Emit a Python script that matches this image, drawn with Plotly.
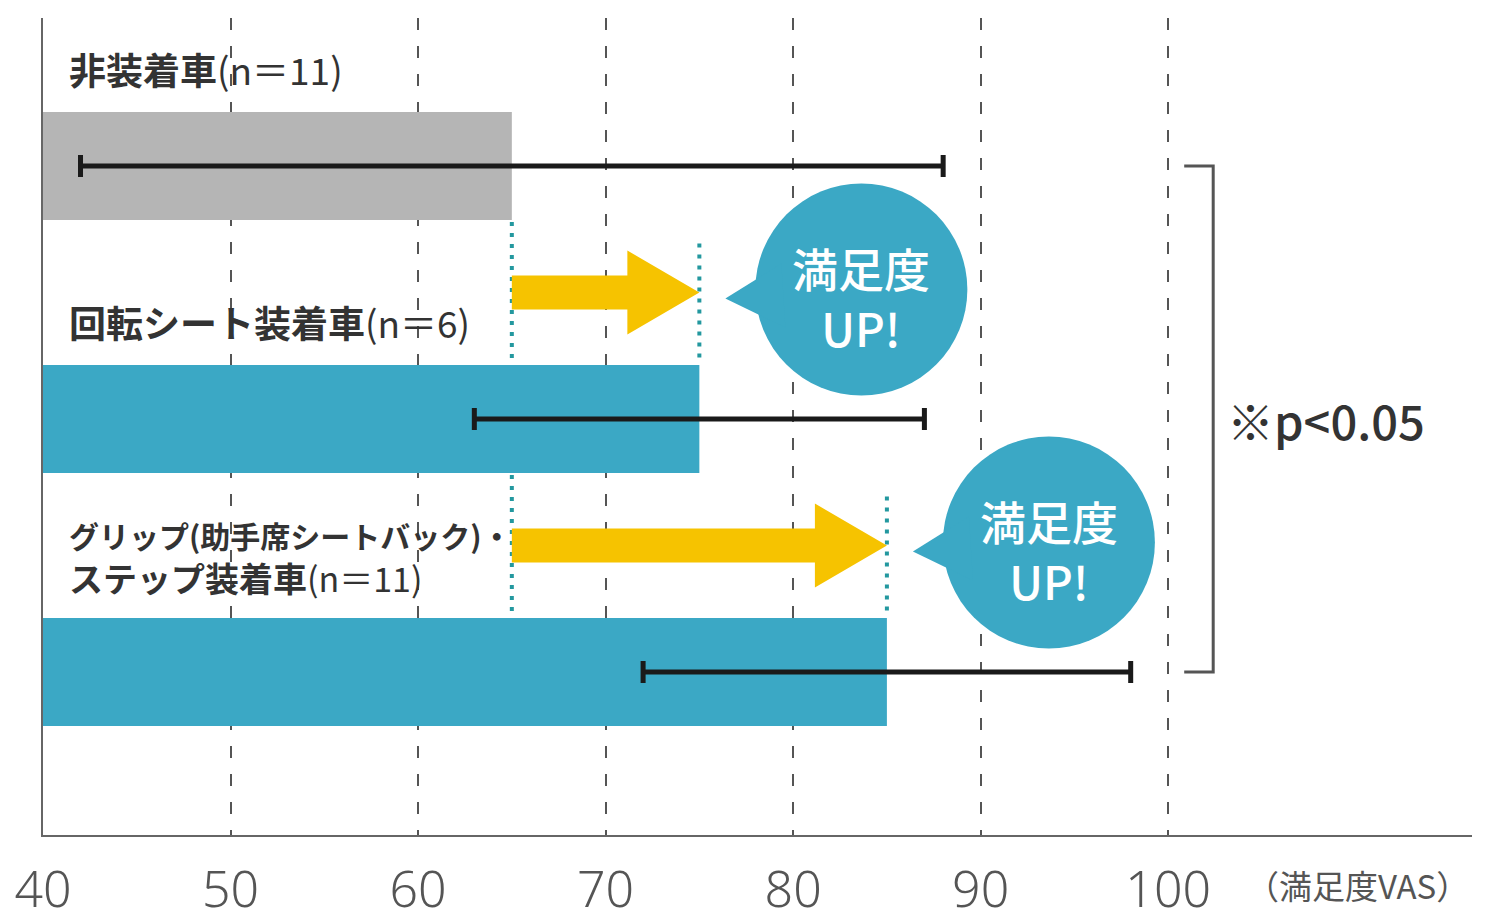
import plotly.graph_objects as go

# ---------------- data ----------------
group_labels = [
    "<b>非装着車</b>(n＝11)",
    "<b>回転シート装着車</b>(n＝6)",
    "<span style='font-size:30px'><b>グリップ(助手席シートバック)・</b></span><br><b>ステップ装着車</b>(n＝11)",
]
means = [65, 75, 85]
sds = [23, 12, 13]
bar_colors = ["#B5B5B5", "#3BA8C5", "#3BA8C5"]
tick_vals = [40, 50, 60, 70, 80, 90, 100]
tick_text = ["40", "50", "60", "70", "80", "90", "100"]
axis_unit = "（満足度VAS）"
bubble_text = "満足度<br>UP!"
sig_text = "※p<0.05"

# ---------------- layout geometry ----------------
PAGE_OFF = 8  # browser default body margin
W, H = 1500 - PAGE_OFF, 922 - PAGE_OFF
PLOT_W, PLOT_H = 1429, 817
ML, MT = 43 - PAGE_OFF, 18 - PAGE_OFF
MR, MB = W - ML - PLOT_W, H - MT - PLOT_H
X_RANGE = [40, 116.2]
Y_RANGE = [2.644, -0.585]
px_x = PLOT_W / (X_RANGE[1] - X_RANGE[0])
px_y = PLOT_H / (Y_RANGE[0] - Y_RANGE[1])


def dx(p):
    return p / px_x


def dy(p):
    return p / px_y


BAR_W = 0.427
FONT = "Noto Sans CJK JP"
ypos = list(range(len(means)))

fig = go.Figure()
fig.add_trace(go.Bar(
    y=ypos, x=means, orientation="h", width=BAR_W,
    marker=dict(color=bar_colors, line=dict(width=0)),
    error_x=dict(type="data", array=sds, color="#1a1a1a", thickness=5, width=11),
    hoverinfo="skip",
))

shapes = []
annotations = []

ARROW_C = "#F6C300"
DOT_C = "#23989F"
BUB_C = "#3BA8C5"

for i in range(1, len(means)):
    ymid = ypos[i - 1] + 0.5
    x0, x1 = means[0], means[i]
    # dotted reference lines
    shapes.append(dict(type="line", xref="x", yref="y", x0=x0, x1=x0,
                       y0=ypos[i - 1] + BAR_W / 2 + dy(2), y1=ypos[i] - BAR_W / 2 - dy(2),
                       line=dict(color=DOT_C, width=4, dash="4px,7px")))
    shapes.append(dict(type="line", xref="x", yref="y", x0=x1, x1=x1,
                       y0=ymid - dy(49), y1=ypos[i] - BAR_W / 2 - dy(5),
                       line=dict(color=DOT_C, width=4, dash="4px,7px")))
    # arrow
    s, h, hl = dy(17), dy(42), dx(72)
    xh = x1 - hl
    path = (f"M {x0},{ymid - s} L {xh},{ymid - s} L {xh},{ymid - h} L {x1},{ymid} "
            f"L {xh},{ymid + h} L {xh},{ymid + s} L {x0},{ymid + s} Z")
    shapes.append(dict(type="path", xref="x", yref="y", path=path,
                       fillcolor=ARROW_C, line=dict(width=0)))
    # speech bubble
    cx, cy = x1 + dx(162), ymid - dy(3)
    r = 106
    shapes.append(dict(type="circle", xref="x", yref="y",
                       x0=cx - dx(r), x1=cx + dx(r), y0=cy - dy(r), y1=cy + dy(r),
                       fillcolor=BUB_C, line=dict(width=0)))
    tail = (f"M {x1 + dx(26)},{ymid + dy(6)} L {cx - dx(80)},{cy - dy(26)} "
            f"L {cx - dx(76)},{cy + dy(38)} Z")
    shapes.append(dict(type="path", xref="x", yref="y", path=tail,
                       fillcolor=BUB_C, line=dict(width=0)))
    annotations.append(dict(x=cx, y=cy + dy(7), xref="x", yref="y", text=bubble_text,
                            showarrow=False, xanchor="center", yanchor="middle",
                            font=dict(family=FONT, size=46, color="white", weight=500),
                            align="center"))

# group labels
label_sizes = [37, 37, 34]
for i, lab in enumerate(group_labels):
    annotations.append(dict(x=X_RANGE[0] + dx(24), y=ypos[i] - BAR_W / 2 - dy(14),
                            xref="x", yref="y", text=lab, showarrow=False,
                            xanchor="left", yanchor="bottom", align="left",
                            font=dict(family=FONT, size=label_sizes[i], color="#333333")))

# significance bracket
xb = 100 + dx(45)
xl = 100 + dx(16)
shapes.append(dict(type="path", xref="x", yref="y",
                   path=f"M {xl},{ypos[0]} L {xb},{ypos[0]} L {xb},{ypos[-1]} L {xl},{ypos[-1]}",
                   line=dict(color="#555555", width=3)))
annotations.append(dict(x=xb + dx(12), y=(ypos[0] + ypos[-1]) / 2, xref="x", yref="y",
                        text=sig_text, showarrow=False, xanchor="left", yanchor="middle",
                        font=dict(family=FONT, size=47, color="#333333", weight=500)))

# axis unit label
annotations.append(dict(x=100 + dx(76), y=0, xref="x", yref="paper", text=axis_unit,
                        showarrow=False, xanchor="left", yanchor="top", yshift=-24,
                        font=dict(family=FONT, size=33, color="#555555")))

fig.update_layout(
    width=W, height=H,
    margin=dict(l=ML, r=MR, t=MT, b=MB, pad=0, autoexpand=False),
    plot_bgcolor="white", paper_bgcolor="white",
    showlegend=False,
    shapes=shapes, annotations=annotations,
    xaxis=dict(range=X_RANGE, tickvals=tick_vals, ticktext=tick_text, automargin=False,
               showgrid=True, gridcolor="#555555", gridwidth=2, griddash="12px,16px",
               showline=True, linecolor="#666666", linewidth=2, zeroline=False,
               ticks="", ticklabelstandoff=10,
               tickfont=dict(family="Noto Sans", size=50, color="#555555", weight=300)),
    yaxis=dict(range=Y_RANGE, showgrid=False, zeroline=False, showticklabels=False,
               automargin=False,
               showline=True, linecolor="#666666", linewidth=2, ticks=""),
)

fig.write_html("out.html")
